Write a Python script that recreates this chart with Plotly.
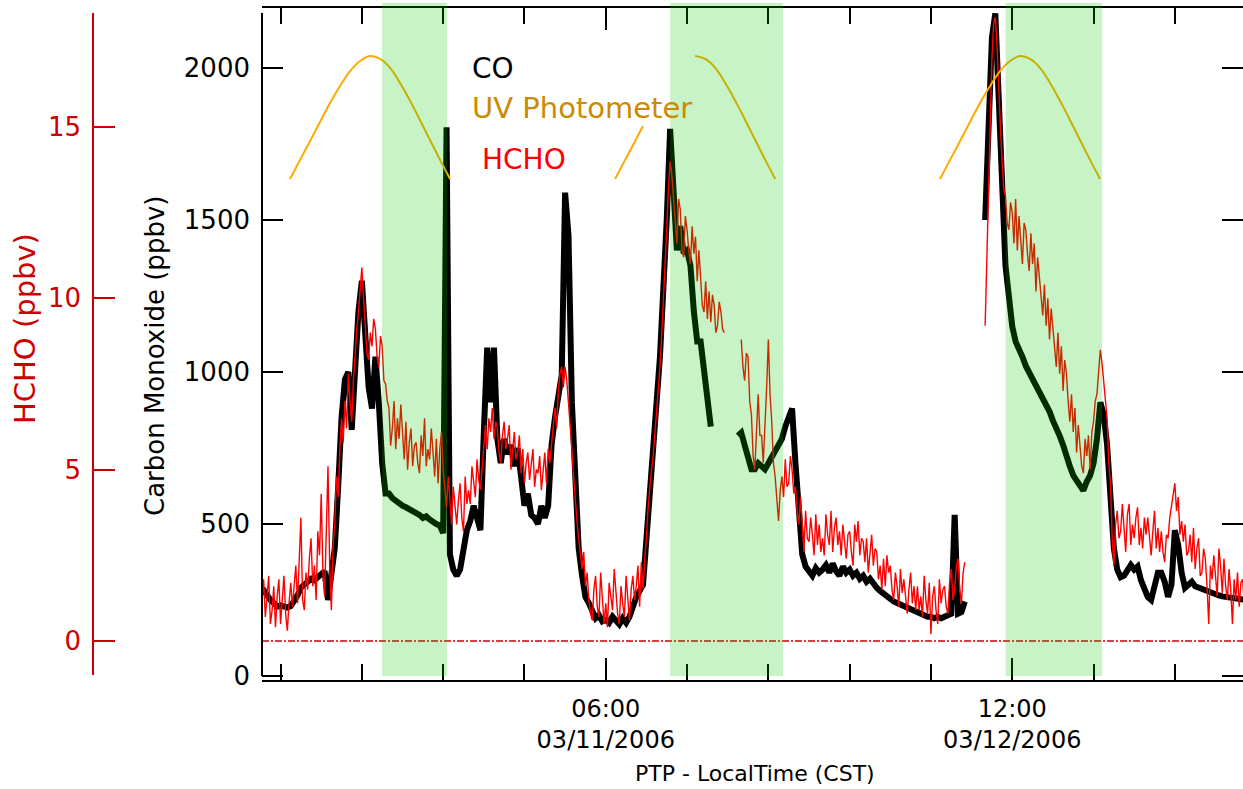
import numpy as np
import plotly.graph_objects as go

# ---------------- data ----------------
# time axis: hours since 2006-03-10 00:00 CST
co_hours = np.arange(4.0, 78.0, 0.25)      # 15-min CO samples
hcho_hours = np.arange(4.0, 78.0, 0.125)   # 7.5-min HCHO samples

N = None
# Carbon monoxide (ppbv), 4 samples per hour starting at hour 4
co_ppbv = [
    280, 283, 285, 283,   # 4
    265, 250, 240, 228,   # 5
    232, 228, 225, 230,   # 6
    245, 265, 290, 300,   # 7
    310, 320, 315, 325,   # 8
    330, 345, 250, 330,   # 9
    420, 620, 850, 975,   # 10
    1000, 810, 1050, 1200,  # 11
    1300, 1150, 950, 880,   # 12
    1050, 900, 700, 600,    # 13
    600, 585, 575, 570,   # 14
    560, 555, 550, 545,   # 15
    540, 530, 520, 525,   # 16
    515, 505, 500, 495,   # 17
    470, 1805, 400, 350,  # 18
    330, 350, 420, 480,   # 19
    510, 560, 520, 480,   # 20
    800, 1080, 900, 1080, # 21
    780, 700, 780, 730,   # 22
    760, 690, 750, 650,   # 23
    560, 600, 530, 520,   # 24
    500, 560, 520, 560,   # 25
    760, 850, 930, 990,   # 26
    1590, 1450, 900, 620, # 27
    420, 330, 260, 240,   # 28
    220, 190, 200, 180,   # 29
    185, 175, 195, 180,   # 30
    170, 190, 175, 195,   # 31
    230, 260, 280, 300,   # 32
    450, 620, 760, 900,   # 33
    1050, 1250, 1500, 1800,  # 34
    1620, 1400, 1480, 1390,  # 35
    1400, 1350, 1200, 1100,  # 36
    1100, 1000, 920, 820,    # 37
    N, N, N, N,           # 38
    N, N, N, 790,         # 39
    800, 760, 720, 680,   # 40
    680, 700, 690, 680,   # 41
    700, 720, 740, 760,   # 42
    780, 820, 850, 880,   # 43
    700, 520, 400, 360,   # 44
    340, 330, 355, 340,   # 45
    350, 365, 340, 370,   # 46
    345, 330, 360, 340,   # 47
    350, 330, 340, 320,   # 48
    330, 310, 320, 300,   # 49
    290, 280, 270, 260,   # 50
    250, 245, 240, 235,   # 51
    230, 220, 215, 210,   # 52
    205, 200, 200, 195,   # 53
    195, 190, 195, 190,   # 54
    195, 200, 205, 530,   # 55
    205, 210, 245, N,     # 56
    N, N, N, N,           # 57
    1500, 1750, 2100, 2180,  # 58
    1900, 1600, 1350, 1250,  # 59
    1150, 1100, 1080, 1050,  # 60
    1020, 1000, 980, 960,    # 61
    940, 920, 890, 870,   # 62
    840, 820, 790, 760,   # 63
    720, 690, 660, 640,   # 64
    620, 610, 640, 660,   # 65
    700, 780, 900, 860,   # 66
    760, 580, 420, 350,   # 67
    325, 330, 350, 365,   # 68
    350, 360, 315, 280,   # 69
    260, 250, 300, 340,   # 70
    340, 310, 260, 300,   # 71
    480, 430, 340, 290,   # 72
    300, 310, 295, 290,   # 73
    285, 280, 275, 270,   # 74
    268, 265, 262, 260,   # 75
    258, 255, 252, 250,   # 76
    250, 250, 250, 250,   # 77
]

# Formaldehyde (ppbv), 8 samples per hour starting at hour 4
hcho_ppbv = [
    1.6, 0.8, 1.3, 2.0, 0.6, 1.1, 1.8, 0.7,   # 4
    1.2, 1.9, 0.5, 0.9, 1.6, 0.4, 1.3, 1.8,   # 5
    0.5, 1.4, 1.9, 0.8, 0.3, 1.1, 1.7, 1.0,   # 6
    1.5, 2.2, 1.1, 2.6, 3.6, 1.2, 0.9, 2.0,   # 7
    1.5, 2.4, 3.0, 1.6, 2.2, 1.2, 3.2, 2.5,   # 8
    4.3, 2.0, 1.3, 3.2, 5.1, 2.2, 0.9, 2.8,   # 9
    3.4, 4.8, 4.2, 5.6, 6.5, 5.8, 7.0, 6.2,   # 10
    7.8, 7.0, 6.4, 7.6, 8.5, 9.1, 9.6, 10.2,  # 11
    10.9, 10.0, 9.3, 8.4, 8.2, 9.0, 8.6, 9.4, # 12
    9.1, 8.3, 8.0, 8.9, 8.6, 7.6, 7.5, 7.0,   # 13
    6.8, 5.7, 6.2, 7.0, 5.6, 6.5, 5.9, 6.9,   # 14
    6.1, 5.3, 6.4, 5.0, 5.8, 6.2, 5.1, 5.7,   # 15
    5.8, 5.2, 4.9, 6.0, 5.4, 6.5, 5.1, 5.6,   # 16
    5.3, 6.2, 5.5, 4.8, 5.9, 4.6, 5.6, 6.1,   # 17
    5.0, 4.3, 3.9, 4.8, 4.1, 3.4, 4.5, 3.8,   # 18
    3.4, 4.1, 4.6, 3.6, 3.2, 4.8, 4.0, 4.4,   # 19
    4.0, 5.1, 4.6, 4.2, 5.3, 4.7, 4.4, 5.0,   # 20
    5.8, 6.3, 5.6, 6.5, 6.1, 6.8, 5.9, 6.4,   # 21
    6.2, 5.5, 5.2, 6.0, 6.4, 5.6, 5.9, 6.3,   # 22
    5.0, 5.7, 6.1, 5.3, 5.5, 6.0, 4.9, 5.6,   # 23
    4.6, 5.2, 5.5, 4.7, 5.1, 5.6, 4.5, 5.0,   # 24
    4.9, 5.4, 4.4, 5.0, 5.5, 4.6, 5.6, 5.2,   # 25
    5.8, 6.4, 6.8, 6.2, 7.3, 7.8, 8.0, 7.4,   # 26
    8.0, 7.6, 7.0, 6.4, 5.6, 4.8, 4.0, 3.5,   # 27
    3.0, 2.5, 2.1, 2.6, 1.6, 2.0, 1.2, 0.8,   # 28
    0.6, 1.5, 1.9, 1.0, 0.7, 2.0, 1.2, 0.5,   # 29
    1.1, 0.4, 1.7, 1.3, 0.9, 2.1, 1.4, 0.8,   # 30
    0.5, 1.6, 1.1, 0.7, 1.9, 1.3, 0.6, 1.5,   # 31
    1.9, 1.2, 1.6, 2.2, 1.0, 2.3, 1.5, 2.4,   # 32
    3.0, 3.9, 4.6, 5.0, 5.4, 6.0, 6.6, 7.3,   # 33
    8.0, 8.9, 9.8, 11.0, 12.0, 13.2, 14.0, 13.6,  # 34
    13.0, 12.2, 11.6, 12.9, 12.6, 11.4, 11.2, 12.4,  # 35
    12.0, 11.4, 11.0, 12.1, 11.3, 11.8, 10.5, 11.4,  # 36
    10.4, 9.8, 9.6, 10.5, 9.4, 10.2, 9.3, 10.1,   # 37
    9.8, 9.0, 9.2, 9.9, 9.6, 9.1, 9.0, N,     # 38
    N, N, N, N, N, N, N, N,                   # 39
    8.8, 8.0, 7.6, 8.4, 8.3, 7.0, 6.6, 5.4,   # 40
    5.0, 6.4, 7.2, 6.0, 6.0, 5.2, 6.2, 7.4,   # 41
    8.8, 7.2, 6.4, 5.2, 4.8, 4.0, 3.5, 4.4,   # 42
    4.8, 4.2, 5.3, 4.5, 4.6, 5.4, 5.0, 4.3,   # 43
    4.5, 3.8, 3.4, 4.2, 3.2, 2.6, 3.8, 3.0,   # 44
    2.9, 3.6, 3.1, 2.5, 3.7, 2.8, 3.4, 2.6,   # 45
    3.0, 2.5, 3.7, 3.1, 2.8, 3.8, 2.6, 3.3,   # 46
    3.6, 2.8, 3.2, 2.5, 3.4, 2.9, 2.4, 3.1,   # 47
    3.2, 2.6, 2.2, 3.4, 2.9, 3.5, 2.5, 3.0,   # 48
    2.9, 2.3, 3.0, 2.0, 2.6, 3.1, 2.2, 2.7,   # 49
    2.6, 1.8, 2.2, 1.5, 2.4, 1.6, 2.5, 2.0,   # 50
    2.2, 1.5, 1.2, 2.0, 1.6, 1.0, 2.1, 1.4,   # 51
    1.8, 1.2, 0.8, 1.5, 2.0, 1.1, 1.6, 0.9,   # 52
    1.6, 0.9, 1.3, 0.7, 1.9, 1.2, 0.8, 1.7,   # 53
    0.2, 1.3, 1.6, 0.9, 0.5, 1.8, 1.1, 1.5,   # 54
    1.6, 1.0, 0.8, 1.7, 2.1, 1.2, 1.5, 2.2,   # 55
    2.4, 1.5, 1.1, 2.0, 2.3, N, N, N,         # 56
    N, N, N, N, N, N, N, N,                   # 57
    9.2, 11.0, 13.0, 15.0, 17.0, 18.0, 18.2, 17.4,  # 58
    16.0, 15.0, 14.0, 13.2, 13.0, 12.2, 12.0, 12.8,  # 59
    12.5, 11.6, 12.9, 11.4, 12.4, 11.8, 11.0, 12.2,  # 60
    12.0, 11.3, 10.8, 11.9, 11.0, 11.6, 10.2, 11.2,  # 61
    10.6, 9.9, 9.5, 10.4, 9.2, 10.0, 8.8, 9.7,  # 62
    9.2, 8.5, 8.0, 9.0, 7.8, 8.6, 7.3, 8.2,   # 63
    7.8, 7.0, 6.4, 7.2, 6.1, 6.8, 5.5, 6.3,   # 64
    5.8, 5.1, 4.9, 5.9, 5.4, 6.0, 5.0, 6.1,   # 65
    6.4, 7.0, 7.2, 8.0, 8.5, 8.1, 7.6, 7.0,   # 66
    6.5, 5.2, 4.6, 3.0, 2.2, 3.4, 3.8, 3.0,   # 67
    3.2, 4.0, 3.3, 2.6, 3.7, 4.0, 2.8, 3.4,   # 68
    3.0, 3.6, 3.9, 2.8, 3.3, 2.7, 3.6, 3.1,   # 69
    3.6, 2.9, 2.5, 3.2, 3.8, 2.7, 3.3, 2.6,   # 70
    3.2, 2.6, 2.3, 3.1, 3.0, 3.6, 3.9, 4.2,   # 71
    4.6, 3.8, 4.2, 3.1, 3.5, 2.9, 3.4, 2.5,   # 72
    2.6, 3.1, 2.3, 3.3, 2.1, 2.7, 3.0, 1.9,   # 73
    2.0, 2.7, 2.4, 1.6, 0.5, 2.2, 1.8, 2.5,   # 74
    1.8, 1.3, 2.7, 2.2, 1.4, 2.4, 1.6, 1.2,   # 75
    2.1, 1.5, 0.5, 1.8, 1.2, 2.0, 1.0, 1.7,   # 76
    1.8, 1.1, 1.5, 1.9, 1.3, 1.2, 1.7, 1.5,   # 77
]

# UV photometer (arbitrary units, hidden axis)
uv_hours = [6.70, 7.44, 8.18, 8.91, 9.65, 10.39, 11.13, 11.87, 12.60, 13.34, 14.08,
            14.82, 15.56, 16.29, 17.03, 17.77, 18.51,
            24.6,
            30.69, 31.43, 32.17, 32.75,
            34.7,
            36.60, 37.34, 38.08, 38.82, 39.56, 40.29, 41.03, 41.77, 42.51,
            48.6,
            54.67, 55.41, 56.15, 56.88, 57.62, 58.36, 59.10, 59.84, 60.57, 61.31, 62.05,
            62.79, 63.53, 64.26, 65.00, 65.74, 66.48]
uv_signal = [0, 7.7, 15.3, 23.0, 30.6, 37.5, 43.5, 47.6, 49.6, 48.4, 44.8,
             38.7, 31.5, 23.8, 15.7, 7.7, 0,
             N,
             0, 7.7, 15.3, 21.4,
             N,
             49.6, 48.4, 44.8, 38.7, 31.5, 23.8, 15.7, 7.7, 0,
             N,
             0, 7.7, 15.3, 23.0, 30.6, 37.5, 43.5, 47.6, 49.6, 48.4, 44.8,
             38.7, 31.5, 23.8, 15.7, 7.7, 0]

# highlighted periods (hours)
band_start = [13.49, 34.75, 59.51]
band_end = [18.29, 43.08, 66.63]

tick_hours = [30, 60]
tick_labels = ["06:00<br>03/11/2006", "12:00<br>03/12/2006"]
co_ticks = [0, 500, 1000, 1500, 2000]
hcho_ticks = [0, 5, 10, 15]

# ---------------- figure ----------------
W, H = 1243, 789
TOP, BOT = 8, 680           # plot area pixel rows
PH = BOT - TOP


def py(p):  # pixel row -> paper y
    return (BOT - p) / PH


def px(p):  # pixel column -> paper x
    return p / W


FONT = "DejaVu Sans"
RED_AX = "#cc0000"

fig = go.Figure()
fig.add_trace(go.Scatter(x=co_hours, y=co_ppbv, mode="lines", yaxis="y",
                         line=dict(color="black", width=6), connectgaps=False,
                         hoverinfo="skip"))
fig.add_trace(go.Scatter(x=hcho_hours, y=hcho_ppbv, mode="lines", yaxis="y2",
                         line=dict(color="#ff0000", width=1.4), connectgaps=False,
                         hoverinfo="skip"))
fig.add_trace(go.Scatter(x=uv_hours, y=uv_signal, mode="lines", yaxis="y3",
                         line=dict(color="#ffaa00", width=2, shape="spline"),
                         connectgaps=False, hoverinfo="skip"))

shapes = [
    dict(type="line", xref="x domain", x0=0, x1=1, yref="y2", y0=0, y1=0,
         line=dict(color=RED_AX, width=1.5, dash="7px,2px,2px,2px"), layer="above"),
    dict(type="line", xref="paper", x0=px(262), x1=px(262), yref="paper",
         y0=py(676), y1=py(13), line=dict(color="black", width=2), layer="above"),
    dict(type="line", xref="paper", x0=px(93), x1=px(93), yref="paper",
         y0=py(675), y1=py(13), line=dict(color=RED_AX, width=2), layer="above"),
]
for b0, b1 in zip(band_start, band_end):
    shapes.append(dict(type="rect", xref="x", x0=b0, x1=b1, yref="paper",
                       y0=py(676), y1=py(3), fillcolor="rgba(0,200,0,0.22)",
                       line=dict(width=0), layer="above"))

annotations = [
    dict(text="CO", x=px(470), y=py(68), font=dict(size=28, color="black")),
    dict(text="UV Photometer", x=px(470), y=py(108), font=dict(size=29, color="#cc8a00")),
    dict(text="HCHO", x=px(480), y=py(160), font=dict(size=28, color="#ff0000")),
]
for a in annotations:
    a.update(xref="paper", yref="paper", xanchor="left", yanchor="middle", showarrow=False)
annotations += [
    dict(text="Carbon Monoxide (ppbv)", x=px(155), y=py(356), xref="paper", yref="paper",
         textangle=-90, showarrow=False, xanchor="center", yanchor="middle",
         font=dict(size=26, color="black")),
    dict(text="HCHO (ppbv)", x=px(25), y=py(329), xref="paper", yref="paper",
         textangle=-90, showarrow=False, xanchor="center", yanchor="middle",
         font=dict(size=29, color=RED_AX)),
    dict(text="PTP - LocalTime (CST)", x=px(755), y=py(773), xref="paper", yref="paper",
         showarrow=False, xanchor="center", yanchor="middle",
         font=dict(size=22, color="black")),
]

fig.update_layout(
    template="none",
    width=W, height=H,
    margin=dict(l=0, r=0, t=TOP, b=H - BOT, pad=0),
    paper_bgcolor="white", plot_bgcolor="white",
    showlegend=False,
    font=dict(family=FONT, color="black"),
    xaxis=dict(domain=[262 / W, 1], range=[4.63, 77.03], showgrid=False, zeroline=False,
               showline=True, linecolor="black", linewidth=2, mirror="ticks",
               ticks="inside", ticklen=22, tickwidth=2, tickcolor="black",
               tickmode="array", tickvals=tick_hours, ticktext=tick_labels,
               tickfont=dict(size=24, family=FONT, color="black"), ticklabelstandoff=6,
               minor=dict(ticks="inside", ticklen=16, tickwidth=2, tickcolor="black",
                          tickmode="linear", tick0=0, dtick=6, showgrid=False),
               automargin=False),
    yaxis=dict(range=[-13.16, 2197.4], showgrid=False, zeroline=False, showline=False,
               mirror="ticks", ticks="inside", ticklen=21, tickwidth=2, tickcolor="black",
               tickmode="array", tickvals=co_ticks,
               tickfont=dict(size=26, family=FONT, color="black"), ticklabelstandoff=11,
               automargin=False),
    yaxis2=dict(overlaying="y", anchor="free", position=93 / W, side="left",
                range=[-1.138, 18.473], showgrid=False, zeroline=False, showline=False,
                ticks="inside", ticklen=21, tickwidth=2, tickcolor=RED_AX,
                tickmode="array", tickvals=hcho_ticks,
                tickfont=dict(size=26, family=FONT, color=RED_AX), ticklabelstandoff=12,
                automargin=False),
    yaxis3=dict(overlaying="y", range=[-202.02, 68.95], visible=False),
    shapes=shapes,
    annotations=annotations,
)

fig.write_html("out.html")
